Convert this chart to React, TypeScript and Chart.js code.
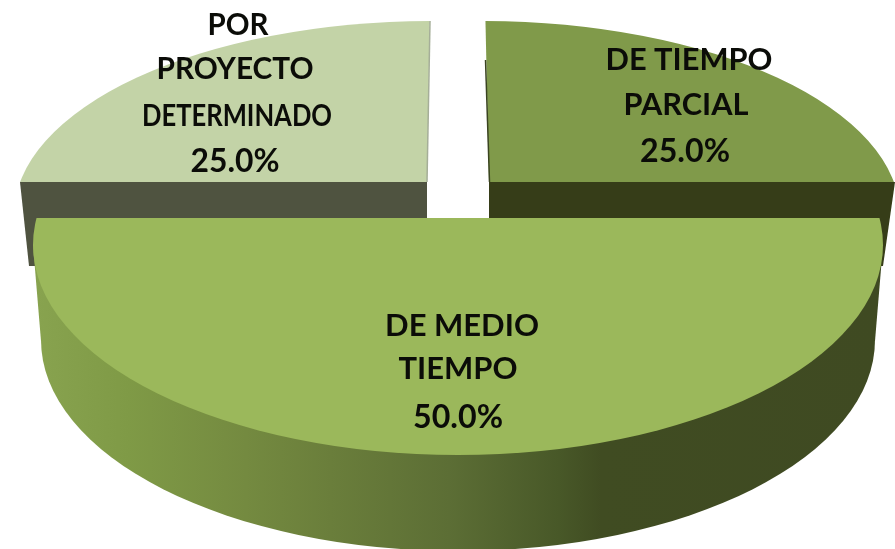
import React, { useEffect, useRef } from "react";
import { Chart, registerables } from "chart.js";

Chart.register(...registerables);

const categories = ["DE TIEMPO PARCIAL", "DE MEDIO TIEMPO", "POR PROYECTO DETERMINADO"];
const shares = [25, 50, 25];
const labelLines = [["DE TIEMPO", "PARCIAL"], ["DE MEDIO", "TIEMPO"], ["POR", "PROYECTO", "DETERMINADO"]];
const faceColors = ["#809A4A", "#9BB85B", "#C3D3A7"];

// Placement of the 3D drawing: which ellipse each slice is projected on, and its clip.
const faces = [
  { cx: 482, cy: 215, rx: 418, ry: 194, clip: [[485, 0], [895, 0], [895, 182], [489, 182]] },
  { cx: 458, cy: 245, rx: 425, ry: 210, clip: [[0, 218], [895, 218], [895, 549], [0, 549]] },
  { cx: 432, cy: 215, rx: 418, ry: 194, clip: [[0, 0], [430, 0], [427, 182], [0, 182]] },
];
const textPlaces = [
  { xs: [689, 686, 685], ys: [60, 105, 151], widths: [167, 125, 90] },
  { xs: [462, 458, 458], ys: [326, 369, 417], widths: [155, 119, 90] },
  { xs: [238, 235, 237, 235], ys: [25, 69, 116, 161], widths: [61, 157, 190, 89] },
];
const gradientStops: [number, string][] = [
  [0, "#88A34F"], [0.11, "#7F9A46"], [0.25, "#748A40"], [0.35, "#6A7E3B"],
  [0.49, "#5C6E35"], [0.62, "#485828"], [0.67, "#404C22"], [1, "#3F4A22"],
];

function poly(ctx: CanvasRenderingContext2D, pts: number[][]) {
  ctx.beginPath();
  pts.forEach(([x, y], i) => (i ? ctx.lineTo(x, y) : ctx.moveTo(x, y)));
  ctx.closePath();
}

function sideGradient(ctx: CanvasRenderingContext2D, x0: number, x1: number) {
  const g = ctx.createLinearGradient(x0, 0, x1, 0);
  gradientStops.forEach(([o, c]) => g.addColorStop(o, c));
  return g;
}

function drawProjected(ctx: CanvasRenderingContext2D, arc: any, f: any, fill?: any) {
  const R = arc.outerRadius;
  ctx.save();
  ctx.translate(f.cx, f.cy);
  ctx.scale(f.rx / R, f.ry / R);
  ctx.translate(-arc.x, -arc.y);
  const saved = arc.options;
  if (fill) arc.options = Object.assign(Object.create(saved), { backgroundColor: fill(R) });
  arc.draw(ctx);
  arc.options = saved;
  ctx.restore();
}

const pie3d = {
  id: "pie3d",
  beforeDatasetsDraw(chart: any) {
    const ctx: CanvasRenderingContext2D = chart.ctx;
    const arcs = chart.getDatasetMeta(0).data;

    // walls of the two back slices
    ctx.fillStyle = "#4F5340";
    poly(ctx, [[20, 182], [427, 182], [427, 266], [29, 266]]);
    ctx.fill();
    ctx.fillStyle = "#363D18";
    poly(ctx, [[489, 182], [895, 182], [883, 266], [489, 266]]);
    ctx.fill();

    // faces of the two back slices
    [0, 2].forEach((i) => {
      ctx.save();
      poly(ctx, faces[i].clip);
      ctx.clip();
      drawProjected(ctx, arcs[i], faces[i]);
      ctx.restore();
    });
    ctx.lineWidth = 1.5;
    ctx.strokeStyle = "#3A4420";
    ctx.beginPath();
    ctx.moveTo(485.5, 60);
    ctx.lineTo(489.5, 182);
    ctx.stroke();
    ctx.strokeStyle = "#A5AE98";
    ctx.beginPath();
    ctx.moveTo(430, 21);
    ctx.lineTo(427, 182);
    ctx.stroke();

    // wall of the front slice
    const wall = { cx: 458, cy: 340, rx: 417, ry: 211 };
    ctx.fillStyle = sideGradient(ctx, 35, 880);
    poly(ctx, [[33, 245], [883, 245], [875, 341], [41, 341]]);
    ctx.fill();
    drawProjected(ctx, arcs[1], wall, (R: number) => {
      const ax = arcs[1].x;
      const k = R / wall.rx;
      return sideGradient(ctx, ax + (35 - wall.cx) * k, ax + (880 - wall.cx) * k);
    });

    // face of the front slice, with the band that runs above its widest line
    const front = arcs[1];
    ctx.save();
    poly(ctx, faces[1].clip);
    ctx.clip();
    drawProjected(ctx, front, faces[1]);
    ctx.beginPath();
    ctx.rect(0, 218, 895, faces[1].cy - 218 + 1);
    ctx.clip();
    const { startAngle, endAngle, circumference } = front;
    front.startAngle = startAngle - Math.PI / 2;
    front.endAngle = endAngle + Math.PI / 2;
    front.circumference = Math.PI * 2;
    drawProjected(ctx, front, faces[1]);
    front.startAngle = startAngle;
    front.endAngle = endAngle;
    front.circumference = circumference;
    ctx.restore();
    return false;
  },
  afterDraw(chart: any) {
    const ctx: CanvasRenderingContext2D = chart.ctx;
    ctx.save();
    ctx.fillStyle = "#0B0C08";
    ctx.textAlign = "center";
    ctx.textBaseline = "middle";
    categories.forEach((_, i) => {
      const lines = [...labelLines[i], `${shares[i].toFixed(1)}%`];
      const place = textPlaces[i];
      lines.forEach((t, j) => {
        ctx.font = j === lines.length - 1 ? "bold 33px Lato" : "bold 31px Lato";
        ctx.fillText(t, place.xs[j], place.ys[j], place.widths[j]);
      });
    });
    ctx.restore();
  },
};

export default function App() {
  const ref = useRef<HTMLCanvasElement>(null);
  useEffect(() => {
    document.body.style.margin = "0";
    document.body.style.background = "#fff";
    const chart = new Chart(ref.current!, {
      type: "pie",
      data: {
        labels: categories,
        datasets: [{ data: shares, backgroundColor: faceColors, borderWidth: 0 }],
      },
      options: {
        animation: false,
        responsive: false,
        plugins: { legend: { display: false }, tooltip: { enabled: false } },
      },
      plugins: [pie3d],
    });
    return () => chart.destroy();
  }, []);
  return (
    <canvas
      ref={ref}
      width={895}
      height={549}
      style={{ display: "block", width: 895, height: 549, filter: "blur(0.4px)" }}
    />
  );
}
